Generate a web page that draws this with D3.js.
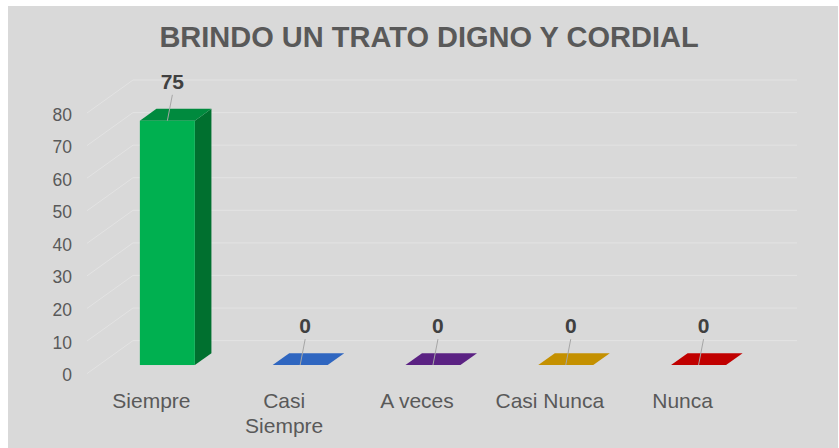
<!DOCTYPE html>
<html>
<head>
<meta charset="utf-8">
<script src="https://cdnjs.cloudflare.com/ajax/libs/d3/7.8.5/d3.min.js"></script>
<style>
  body { margin: 0; background: #ffffff; }
  text { font-family: "Liberation Sans", Arial, sans-serif; }
</style>
</head>
<body>
<div id="chart"></div>
<script>
// Chart data
var categories = ["Siempre", "Casi Siempre", "A veces", "Casi Nunca", "Nunca"];
var values = [75, 0, 0, 0, 0];
var yTicks = [0, 10, 20, 30, 40, 50, 60, 70, 80];
var titleText = "BRINDO UN TRATO DIGNO Y CORDIAL";

// Bar colours (front, top, side)
var frontColors = ["#00b050", "#2f66c0", "#5b2283", "#c49000", "#c00000"];
var topColors = ["#008a3e", "#2f66c0", "#5b2283", "#c49000", "#c00000"];
var sideColors = ["#00702f", "#24509a", "#451a66", "#9c7300", "#990000"];

// SVG size
var width = 839;
var height = 448;

// 3D depth of the floor/walls
var depthX = 46;
var depthY = -33;
var barZ0 = 0.26;
var barZ1 = 0.62;
var barWidth = 55;
var barShift = 4;

var svg = d3.select("#chart")
    .append("svg")
    .attr("width", width)
    .attr("height", height);

// Gray panel
svg.append("rect")
    .attr("x", 8)
    .attr("y", 6)
    .attr("width", 830)
    .attr("height", height - 6)
    .attr("fill", "#d9d9d9");

// Scales (front plane)
var xScale = d3.scaleBand()
    .domain(categories)
    .range([85, 749])
    .padding(0);

var yScale = d3.scaleLinear()
    .domain([0, 80])
    .range([373.6, 113]);

// Project a point at depth z
function px(x, z) { return x + z * depthX; }
function py(y, z) { return y + z * depthY; }

// Gridlines: side floor diagonal + back wall line
var grid = svg.append("g").attr("class", "grid");
yTicks.forEach(function(t) {
    var y = yScale(t);
    grid.append("line")
        .attr("x1", 87).attr("y1", y)
        .attr("x2", px(87, 1)).attr("y2", py(y, 1))
        .attr("stroke", "#e3e3e3")
        .attr("stroke-width", 1);
    grid.append("line")
        .attr("x1", px(87, 1)).attr("y1", py(y, 1))
        .attr("x2", 797).attr("y2", py(y, 1))
        .attr("stroke", "#e3e3e3")
        .attr("stroke-width", 1);
});

// Y axis labels
svg.append("g")
    .selectAll("text")
    .data(yTicks)
    .enter()
    .append("text")
    .attr("x", 72)
    .attr("y", function(d) { return yScale(d) + 7.5; })
    .attr("text-anchor", "end")
    .attr("font-size", 17.5)
    .attr("fill", "#595959")
    .text(function(d) { return d; });

// Bars
var bars = svg.append("g")
    .selectAll("g")
    .data(values)
    .enter()
    .append("g");

function barGeom(d, i) {
    var cx = xScale(categories[i]) + xScale.bandwidth() / 2 + barShift;
    var xl = cx - barWidth / 2;
    var xr = cx + barWidth / 2;
    var yb = yScale(0);
    var yt = yScale(d);
    return {xl: xl, xr: xr, yb: yb, yt: yt, cx: cx};
}

// side face
bars.append("path")
    .attr("d", function(d, i) {
        var g = barGeom(d, i);
        return "M" + px(g.xr, barZ0) + "," + py(g.yt, barZ0) +
            "L" + px(g.xr, barZ1) + "," + py(g.yt, barZ1) +
            "L" + px(g.xr, barZ1) + "," + py(g.yb, barZ1) +
            "L" + px(g.xr, barZ0) + "," + py(g.yb, barZ0) + "Z";
    })
    .attr("fill", function(d, i) { return sideColors[i]; });

// top face
bars.append("path")
    .attr("d", function(d, i) {
        var g = barGeom(d, i);
        return "M" + px(g.xl, barZ0) + "," + py(g.yt, barZ0) +
            "L" + px(g.xr, barZ0) + "," + py(g.yt, barZ0) +
            "L" + px(g.xr, barZ1) + "," + py(g.yt, barZ1) +
            "L" + px(g.xl, barZ1) + "," + py(g.yt, barZ1) + "Z";
    })
    .attr("fill", function(d, i) { return topColors[i]; });

// front face
bars.append("rect")
    .attr("x", function(d, i) { return px(barGeom(d, i).xl, barZ0); })
    .attr("y", function(d, i) { return py(barGeom(d, i).yt, barZ0); })
    .attr("width", barWidth)
    .attr("height", function(d, i) { var g = barGeom(d, i); return g.yb - g.yt; })
    .attr("fill", function(d, i) { return frontColors[i]; });

// Data labels with leader lines
bars.append("line")
    .attr("x1", function(d, i) { return px(barGeom(d, i).cx, barZ0) + 5; })
    .attr("y1", function(d, i) { return py(barGeom(d, i).yt, barZ1) - 14; })
    .attr("x2", function(d, i) { return px(barGeom(d, i).cx, barZ0); })
    .attr("y2", function(d, i) { return py(barGeom(d, i).yt, barZ0); })
    .attr("stroke", "#a6a6a6")
    .attr("stroke-width", 1);

bars.append("text")
    .attr("x", function(d, i) { return px(barGeom(d, i).cx, barZ0) + 5; })
    .attr("y", function(d, i) { return py(barGeom(d, i).yt, barZ1) - 20; })
    .attr("text-anchor", "middle")
    .attr("font-size", 21)
    .attr("font-weight", "bold")
    .attr("fill", "#404040")
    .text(function(d) { return d; });

// Category labels (wrapped when too wide)
var xLabels = svg.append("g")
    .selectAll("text")
    .data(categories)
    .enter()
    .append("text")
    .attr("x", function(d) { return xScale(d) + xScale.bandwidth() / 2; })
    .attr("y", 408)
    .attr("text-anchor", "middle")
    .attr("font-size", 21)
    .attr("fill", "#595959")
    .text(function(d) { return d; });

xLabels.each(function(d) {
    var t = d3.select(this);
    if (this.getComputedTextLength() > 118) {
        var words = d.split(" ");
        var x = t.attr("x");
        t.text(null);
        words.forEach(function(w, k) {
            t.append("tspan")
                .attr("x", x)
                .attr("dy", k === 0 ? 0 : 25)
                .text(w);
        });
    }
});

// Title
svg.append("text")
    .attr("x", 429)
    .attr("y", 47)
    .attr("text-anchor", "middle")
    .attr("font-size", 29)
    .attr("font-weight", "bold")
    .attr("fill", "#595959")
    .text(titleText);
</script>
</body>
</html>
